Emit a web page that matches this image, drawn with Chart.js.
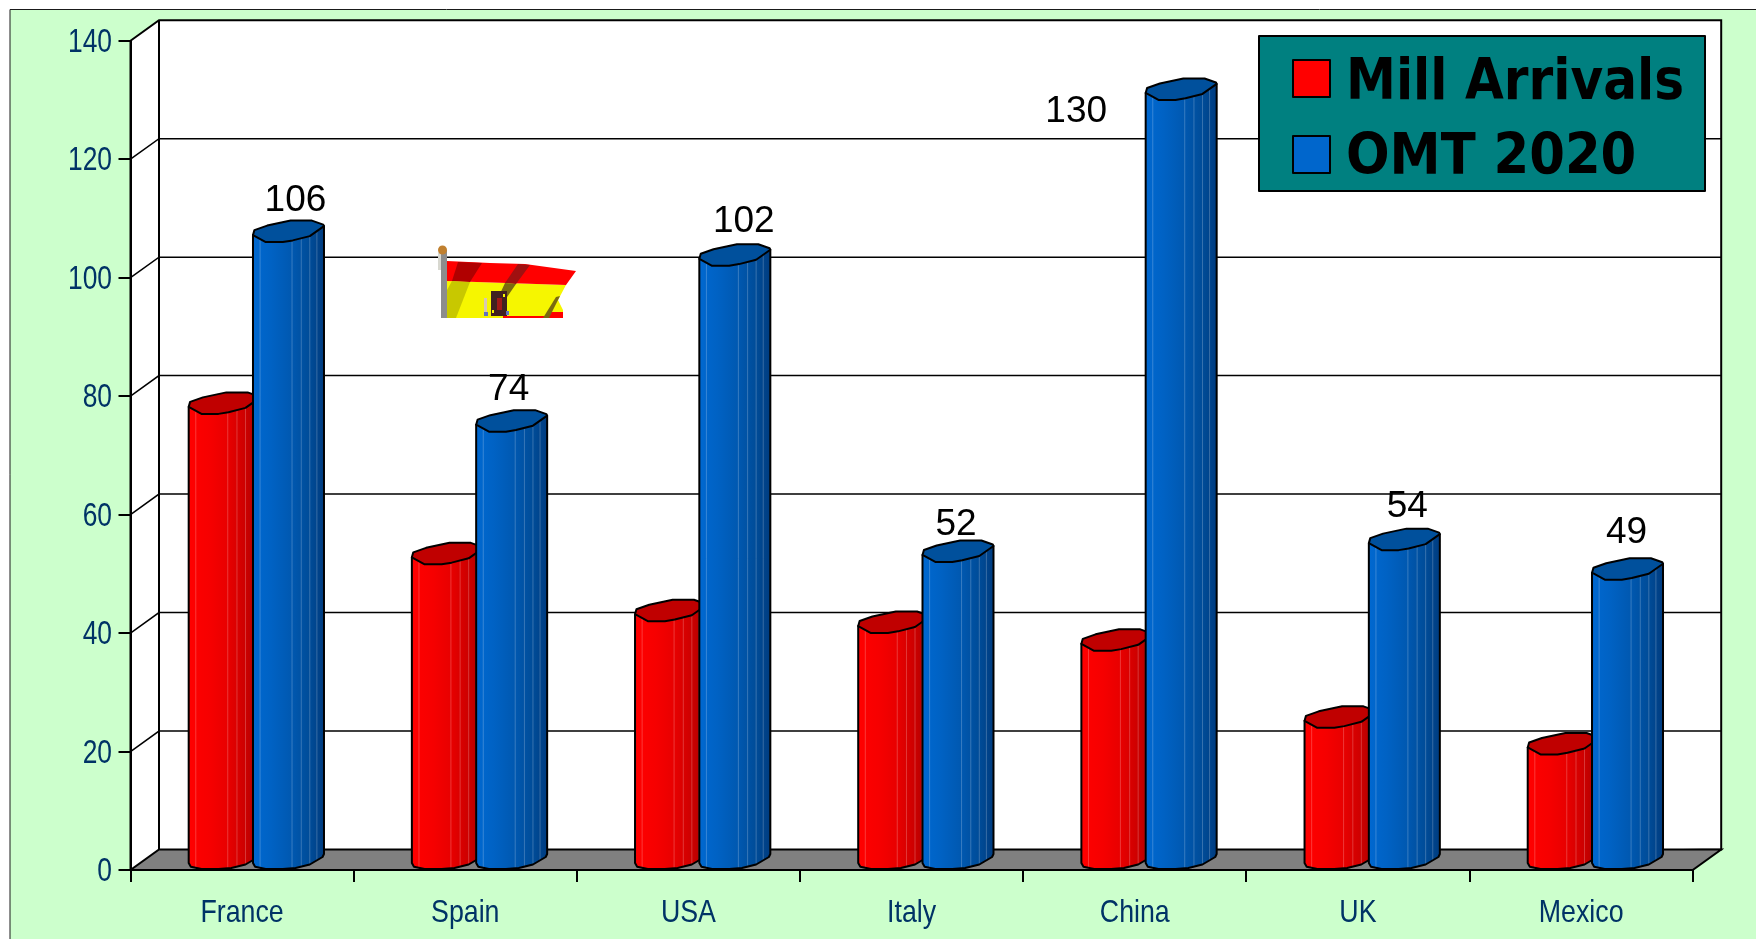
<!DOCTYPE html>
<html>
<head>
<meta charset="utf-8">
<title>Mill Arrivals vs OMT 2020</title>
<style>
html, body { margin: 0; padding: 0; background: #fff; }
canvas { display: block; }
</style>
<script src="https://cdn.jsdelivr.net/npm/chart.js@4"></script>
</head>
<body>
<canvas id="myChart" width="1756" height="939"></canvas>
<script>
const paises = ['France', 'Spain', 'USA', 'Italy', 'China', 'UK', 'Mexico'];
const millArrivals = [77, 51.6, 42, 40, 37, 24, 19.5];
const omt2020 = [106, 74, 102, 52, 130, 54, 49];
const yTicks = [0, 20, 40, 60, 80, 100, 120, 140];

// rotulos do OMT nao ficam todos centrados na barra (dx, dy)
const rotuloDx = [7, -3, 9, -2, -105, 3, -1];
const rotuloDy = [-41, -42, -44, -37, 12, -43, -47];

// caixa 3D
const depthX = 28.5;
const depthY = 20.5;
const area = { left: 130.5, top: 40.7, right: 1692.7, bottom: 870 };

const faceRed = [[0, '#ff0000'], [0.3, '#f60000'], [0.55, '#e80000'], [0.8, '#cc0000'], [1, '#a80000']];
const faceBlue = [[0, '#0068d0'], [0.25, '#0062c4'], [0.55, '#0058b0'], [0.8, '#004c98'], [1, '#003c80']];
const topRed = '#c00000';
const topBlue = '#00509c';

// tampa e base do cilindro: fracao da largura, px acima do ponto mais baixo
const tampa = [[0, -7], [0.02, -12], [0.2, -16.5], [0.53, -21.5], [0.83, -21.5], [0.99, -17.5], [1, -16], [0.8, -6], [0.56, -1.7], [0.42, 0], [0.18, 0], [0, -7]];
const base = [[0, -6], [0.03, -2.3], [0.18, 0], [0.42, 0], [0.6, -1], [0.8, -4.5], [0.98, -12], [1, -15]];

function tracar(ctx, pts) {
    ctx.beginPath();
    pts.forEach((p, i) => i ? ctx.lineTo(p[0], p[1]) : ctx.moveTo(p[0], p[1]));
}

// fonte estreita nao esta instalada: comprime na horizontal
function textoEstreito(ctx, txt, x, y, fonte, escala, align) {
    ctx.save();
    ctx.translate(x, y);
    ctx.scale(escala, 1);
    ctx.font = fonte;
    ctx.textAlign = align;
    ctx.textBaseline = 'alphabetic';
    ctx.fillText(txt, 0, 0);
    ctx.restore();
}

function cilindro(ctx, bar, faces, corTampa) {
    let w = bar.width;
    let x0 = bar.x - w / 2 + depthX / 2;
    let yTop = bar.y;
    let yBase = bar.base;

    let corpo = [[x0, yTop - 7]];
    base.forEach(p => corpo.push([x0 + p[0] * w, yBase + p[1]]));
    corpo.push([x0 + w, yTop - 16]);
    tracar(ctx, corpo);
    ctx.closePath();
    let g = ctx.createLinearGradient(x0, 0, x0 + w, 0);
    faces.forEach(f => g.addColorStop(f[0], f[1]));
    ctx.fillStyle = g;
    ctx.fill();

    // facetas claras
    ctx.save();
    ctx.clip();
    ctx.strokeStyle = 'rgba(255,255,255,0.22)';
    ctx.lineWidth = 1;
    [0.1, 0.55, 0.68, 0.8, 0.9].forEach(f => {
        ctx.beginPath();
        ctx.moveTo(x0 + f * w, yTop - 20);
        ctx.lineTo(x0 + f * w, yBase);
        ctx.stroke();
    });
    ctx.restore();

    ctx.strokeStyle = '#000';
    ctx.lineWidth = 2;
    ctx.lineJoin = 'round';
    tracar(ctx, corpo);
    ctx.closePath();
    ctx.stroke();

    tracar(ctx, tampa.map(p => [x0 + p[0] * w, yTop + p[1]]));
    ctx.closePath();
    ctx.fillStyle = corTampa;
    ctx.fill();
    ctx.stroke();
}

function bandeira(ctx) {
    // amarelo
    ctx.fillStyle = '#f6f600';
    tracar(ctx, [[447, 281], [566, 285], [558, 300], [563, 310], [563, 318], [447, 318]]);
    ctx.fill();
    // faixas vermelhas
    ctx.fillStyle = '#ff0000';
    tracar(ctx, [[447, 261], [490, 263], [525, 264], [576, 271], [566, 285], [447, 281]]);
    ctx.fill();
    tracar(ctx, [[503, 316], [548, 316], [549, 312], [563, 312], [563, 318], [503, 318]]);
    ctx.fill();
    // sombras
    ctx.fillStyle = '#b00000';
    tracar(ctx, [[458, 262], [482, 263], [470, 282], [452, 281]]);
    ctx.fill();
    ctx.fillStyle = '#c8c800';
    tracar(ctx, [[452, 281], [470, 282], [456, 318], [447, 318], [447, 290]]);
    ctx.fill();
    ctx.fillStyle = '#a01010';
    tracar(ctx, [[518, 264], [530, 265], [516, 284], [505, 283]]);
    ctx.fill();
    ctx.fillStyle = '#7a6a10';
    tracar(ctx, [[505, 283], [516, 284], [505, 300], [498, 298]]);
    ctx.fill();
    tracar(ctx, [[556, 297], [560, 296], [549, 318], [543, 318]]);
    ctx.fill();
    // escudo
    ctx.fillStyle = '#402020';
    ctx.fillRect(491, 291, 16, 25);
    ctx.fillStyle = '#a01818';
    ctx.fillRect(497, 298, 5, 12);
    ctx.fillStyle = '#f6f600';
    ctx.fillRect(503, 294, 2, 3);
    ctx.fillRect(492, 310, 2, 3);
    ctx.fillStyle = '#d8c8b0';
    ctx.fillRect(484, 298, 3, 14);
    ctx.fillStyle = '#6070c0';
    ctx.fillRect(484, 312, 4, 4);
    ctx.fillRect(506, 311, 3, 4);
    // mastro
    ctx.fillStyle = '#8c8c8c';
    ctx.fillRect(441, 250, 6, 68);
    ctx.fillStyle = '#d8d8d0';
    ctx.fillRect(438, 252, 3, 18);
    ctx.fillStyle = '#c08030';
    ctx.beginPath();
    ctx.arc(442.5, 250, 4.5, 0, Math.PI * 2);
    ctx.fill();
}

const caixa3d = {
    id: 'caixa3d',
    beforeDraw(chart) {
        const ctx = chart.ctx;
        ctx.save();
        ctx.fillStyle = '#ccffcc';
        ctx.fillRect(10, 9.5, 1746, 930);
        ctx.strokeStyle = '#1a1a1a';
        ctx.lineWidth = 1;
        ctx.beginPath();
        ctx.moveTo(10, 939);
        ctx.lineTo(10, 9.5);
        ctx.lineTo(1756, 9.5);
        ctx.stroke();

        const y = chart.scales.y;
        const frenteL = y.getPixelForValue(0);
        const frenteT = y.getPixelForValue(140);

        // paredes
        ctx.fillStyle = '#fff';
        ctx.strokeStyle = '#000';
        ctx.lineWidth = 2;
        tracar(ctx, [[area.left, frenteT], [area.left + depthX, frenteT - depthY], [area.right + depthX, frenteT - depthY],
            [area.right + depthX, frenteL - depthY], [area.left, frenteL]]);
        ctx.closePath();
        ctx.fill();
        ctx.stroke();
        ctx.beginPath();
        ctx.moveTo(area.left + depthX, frenteT - depthY);
        ctx.lineTo(area.left + depthX, frenteL - depthY);
        ctx.stroke();

        // piso
        ctx.fillStyle = '#808080';
        tracar(ctx, [[area.left, frenteL], [area.right, frenteL], [area.right + depthX, frenteL - depthY], [area.left + depthX, frenteL - depthY]]);
        ctx.closePath();
        ctx.fill();
        ctx.stroke();

        // grade
        ctx.lineWidth = 1.5;
        yTicks.slice(1, -1).forEach(v => {
            let py = y.getPixelForValue(v);
            tracar(ctx, [[area.left, py], [area.left + depthX, py - depthY], [area.right + depthX, py - depthY]]);
            ctx.stroke();
        });
        ctx.restore();
    },
    beforeDatasetDraw() {
        return false;
    },
    afterDatasetsDraw(chart) {
        const ctx = chart.ctx;
        const vermelhas = chart.getDatasetMeta(0).data;
        const azuis = chart.getDatasetMeta(1).data;
        ctx.save();
        vermelhas.forEach(b => cilindro(ctx, b, faceRed, topRed));
        azuis.forEach(b => cilindro(ctx, b, faceBlue, topBlue));

        // rotulos do OMT
        ctx.fillStyle = '#000';
        ctx.font = '37px "Liberation Sans"';
        ctx.textAlign = 'center';
        ctx.textBaseline = 'middle';
        azuis.forEach((b, i) => {
            ctx.fillText(omt2020[i], b.x + depthX / 2 + rotuloDx[i], b.y + rotuloDy[i]);
        });

        // rotulos dos eixos
        ctx.fillStyle = '#003366';
        yTicks.forEach(v => {
            textoEstreito(ctx, String(v), 112, chart.scales.y.getPixelForValue(v) + 11, '33px "Liberation Sans"', 0.8, 'right');
        });
        paises.forEach((p, i) => {
            textoEstreito(ctx, p, chart.scales.x.getPixelForTick(i), 922, '31.5px "Liberation Sans"', 0.85, 'center');
        });

        bandeira(ctx);

        // legenda
        ctx.fillStyle = '#008080';
        ctx.strokeStyle = '#000';
        ctx.lineWidth = 2;
        ctx.fillRect(1259, 36, 446, 155);
        ctx.strokeRect(1259, 36, 446, 155);
        chart.data.datasets.forEach((ds, i) => {
            let ly = i === 0 ? 60 : 136;
            ctx.fillStyle = ds.backgroundColor;
            ctx.fillRect(1293, ly, 37, 37);
            ctx.strokeRect(1293, ly, 37, 37);
            ctx.fillStyle = '#000';
            textoEstreito(ctx, ds.label, 1346, ly + (i === 0 ? 39 : 38), 'bold 57px "DejaVu Sans"', i === 0 ? 0.88 : 0.9, 'left');
        });
        ctx.restore();
    }
};

function grafico() {
    const ctx = document.getElementById('myChart');
    const cat = (area.right - area.left) / paises.length;
    new Chart(ctx, {
        type: 'bar',
        data: {
            labels: paises,
            datasets: [{
                label: 'Mill Arrivals',
                data: millArrivals,
                backgroundColor: '#ff0000'
            }, {
                label: 'OMT 2020',
                data: omt2020,
                backgroundColor: '#0066cc'
            }]
        },
        plugins: [caixa3d],
        options: {
            responsive: false,
            animation: false,
            categoryPercentage: 128.6 / cat,
            barPercentage: 71 / 64.3,
            layout: { padding: { left: 0, top: area.top, right: 1756 - area.right, bottom: 0 } },
            plugins: { legend: { display: false }, tooltip: { enabled: false } },
            scales: {
                x: {
                    afterFit: s => { s.height = 939 - area.bottom; },
                    grid: { drawOnChartArea: false, color: '#000', lineWidth: 2, tickLength: 12 },
                    border: { color: '#000', width: 2 },
                    ticks: { display: false, maxRotation: 0 }
                },
                y: {
                    min: 0,
                    max: 140,
                    afterBuildTicks: s => { s.ticks = yTicks.map(v => ({ value: v })); },
                    afterFit: s => { s.width = area.left; },
                    grid: { drawOnChartArea: false, color: '#000', lineWidth: 2, tickLength: 12 },
                    border: { color: '#000', width: 2 },
                    ticks: { display: false }
                }
            }
        }
    });
}

grafico();
</script>
</body>
</html>
